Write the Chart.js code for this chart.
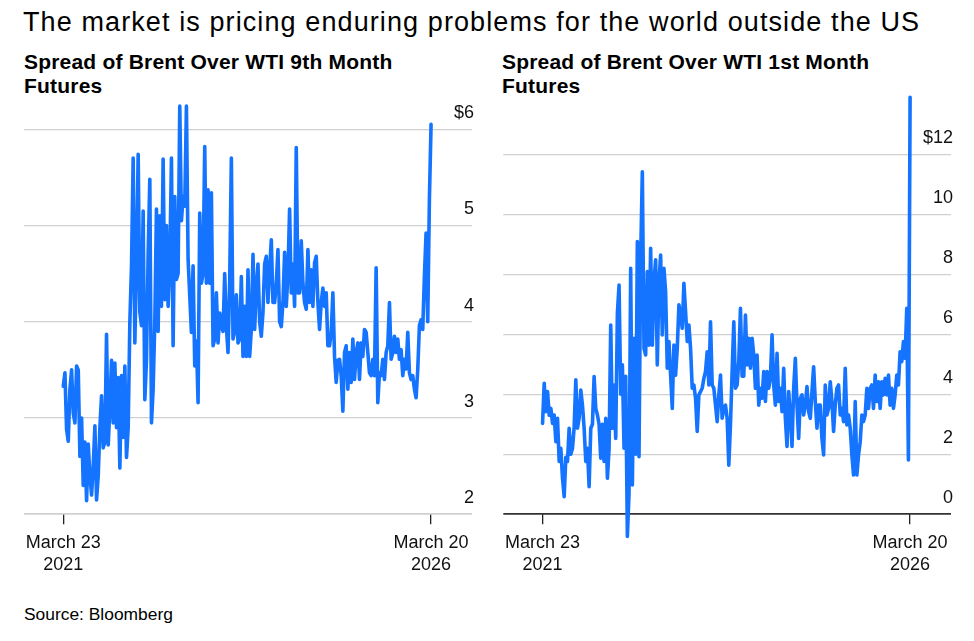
<!DOCTYPE html>
<html>
<head>
<meta charset="utf-8">
<script src="https://cdn.jsdelivr.net/npm/chart.js@4.4.1/dist/chart.umd.min.js"></script>
<style>
  html, body { margin: 0; padding: 0; background: #fff; }
  body { width: 974px; height: 641px; position: relative; overflow: hidden;
         font-family: 'Liberation Sans', Arial, sans-serif; color: #000; }
  .title { position: absolute; left: 23px; top: 9px; font-size: 27px; line-height: 27px;
           letter-spacing: 1.1px; white-space: nowrap; }
  .sub { position: absolute; top: 50px; font-size: 21px; line-height: 24px;
         font-weight: bold; letter-spacing: 0.2px; white-space: nowrap; }
  .box { position: absolute; top: 93px; width: 487px; height: 497px; }
  .source { position: absolute; left: 24px; top: 604px; font-size: 17.4px; line-height: 20px; }
</style>
</head>
<body>
<div class="title">The market is pricing enduring problems for the world outside the US</div>
<div class="sub" style="left:24px">Spread of Brent Over WTI 9th Month<br>Futures</div>
<div class="sub" style="left:502px">Spread of Brent Over WTI 1st Month<br>Futures</div>
<div class="box" style="left:0"><canvas id="chart9th"></canvas></div>
<div class="box" style="left:487px"><canvas id="chart1st"></canvas></div>
<div class="source">Source: Bloomberg</div>

<script>
// tick labels
const xTickLabels = [["March 23", "2021"], ["March 20", "2026"]];
const ticks9th = [2, 3, 4, 5, 6];
const ticks1st = [0, 2, 4, 6, 8, 10, 12];

// Brent over WTI, 9th month futures ($/bbl), March 2021 -> March 2026
const spread9th = [
  3.33, 3.47, 2.88, 2.76, 3.3, 3.5, 3.05, 2.95, 3.54, 3.5, 2.6, 3.0, 2.3, 2.75, 2.14, 2.73,
  2.4, 2.2, 2.5, 2.92, 2.15, 2.4, 2.9, 3.23, 2.69, 2.75, 3.87, 2.72, 3.1, 3.6, 2.95, 3.57,
  2.9, 3.42, 2.48, 3.44, 2.8, 3.54, 2.59, 2.9, 3.99, 4.58, 5.70, 3.78, 4.6, 5.74, 4.1, 3.96,
  5.15, 3.19, 3.6, 4.7,
  5.48, 2.95, 3.3, 4.0, 5.17, 3.9, 5.1, 4.16, 5.69, 4.23, 5.0, 4.16, 4.6, 5.70, 3.75, 5.3,
  4.44, 4.5, 6.24, 5.05, 5.3, 5.2, 6.24, 4.65, 4.27, 3.89, 4.58, 3.54, 3.8, 3.16, 5.13, 4.4,
  4.5, 5.82, 4.4, 5.37, 4.4, 5.34, 3.75, 3.82, 4.30, 3.78, 4.09, 3.95, 3.9, 4.5, 3.95, 3.68,
  4.42, 5.70, 3.82, 3.9, 4.28, 3.78, 3.82, 4.47, 3.64,
  4.16, 3.64, 4.54, 3.64, 3.92, 4.70, 3.92, 4.36, 4.6, 4.0, 3.85, 4.1, 4.6, 4.68, 4.2, 4.54,
  4.85, 4.2, 4.2, 4.4, 4.75, 4.0, 3.95, 4.2, 4.72, 4.16, 4.5, 5.17, 4.3, 4.6, 4.16, 5.81,
  4.3, 4.3, 4.84, 4.4, 4.2, 4.13, 4.75, 4.2, 4.54, 4.16, 4.61, 4.68, 4.2, 3.92, 4.2, 4.35,
  4.16, 4.3, 3.75, 3.75, 3.89, 4.30, 3.64, 3.37, 3.6,
  3.61, 3.44, 3.07, 3.68, 3.75, 3.3, 3.68, 3.37, 3.82, 3.4, 3.68, 3.78, 3.4, 3.78, 3.64, 3.92,
  3.89, 3.68, 3.47, 3.44, 3.61, 3.44, 4.56, 3.16, 3.47, 3.44, 3.61, 3.40, 3.68, 3.75, 4.2, 3.61,
  3.68, 3.85, 3.68, 3.82, 3.61, 3.71, 3.44, 3.61, 3.51, 3.89, 3.47, 3.40, 3.44, 3.30, 3.21, 3.5,
  3.96, 4.02, 3.92, 4.47, 4.92, 4.0, 5.27, 6.05
];

// Brent over WTI, 1st month futures ($/bbl)
const spread1st = [
  3.03, 4.37, 3.42, 4.09, 3.3, 3.53, 3.03, 3.31, 2.42, 3.2, 1.76, 2.2, 1.2, 0.59, 1.9, 1.76,
  2.87, 2.0, 2.2, 2.9, 4.48, 2.87, 3.2, 4.14, 3.64, 2.87, 1.76, 2.2, 0.92, 2.87, 3.0, 4.59,
  3.53, 3.31, 3.0, 1.87, 3.0, 1.76, 3.2, 1.2, 2.2, 6.31, 2.87, 4.31, 2.53, 6.7, 7.64, 4.0,
  4.98, 2.2, 4.6, -0.74, 0.7,
  8.2, 0.98, 5.87, 2.0, 9.09, 1.92, 8.53, 11.42, 5.53, 5.31, 8.09, 5.64, 8.87, 5.64, 7.76, 8.48,
  4.98, 7.76, 8.64, 5.98, 8.2, 7.42, 4.87, 5.76, 4.64, 3.53, 5.64, 4.64, 5.53, 6.98, 6.64, 6.2,
  7.7, 6.76, 5.76, 6.31, 5.53, 4.2, 4.31, 3.87, 2.76, 3.98, 4.09, 4.2, 4.53, 4.76, 5.42, 4.31,
  6.42, 4.31, 4.2, 3.64, 3.09, 3.98, 4.64, 3.2, 3.53,
  3.64, 3.2, 1.64, 3.0, 4.76, 6.42, 4.2, 4.31, 5.09, 6.87, 4.6, 4.6, 6.64, 4.98, 5.87, 4.87,
  5.87, 5.31, 4.2, 5.31, 3.64, 4.2, 3.87, 4.76, 3.76, 4.76, 4.2, 4.53, 5.98, 4.31, 3.64, 5.37,
  3.76, 4.2, 3.42, 4.87, 3.2, 2.26, 4.09, 3.31, 2.26, 4.2, 5.2, 3.64, 2.53, 3.87, 3.98, 3.31,
  3.64, 4.26, 3.42, 3.2, 4.09, 4.92, 3.76, 2.87, 3.64,
  3.64, 2.53, 1.98, 4.31, 3.31, 3.53, 4.42, 3.76, 2.76, 3.64, 4.2, 4.31, 3.31, 3.53, 3.09, 4.87,
  2.98, 3.31, 2.87, 1.98, 1.31, 3.76, 1.31, 1.98, 2.42, 3.31, 3.09, 3.31, 4.2, 3.53, 4.2, 4.31,
  3.53, 4.64, 3.76, 4.42, 3.53, 4.42, 3.98, 4.53, 3.98, 4.64, 3.64, 4.2, 3.53, 3.98, 4.64, 4.31,
  5.42, 5.09, 5.76, 5.2, 6.87, 1.81, 13.9
];

Chart.defaults.font.family = "'Liberation Sans', Arial, sans-serif";
Chart.defaults.color = '#111';

function makeChart(id, values, yTicks, yMax, pad) {
  const ctx = document.getElementById(id).getContext('2d');
  const last = values.length - 1;
  return new Chart(ctx, {
    type: 'line',
    data: {
      datasets: [{
        data: values.map((v, i) => ({ x: i, y: v })),
        borderColor: '#1473ff',
        borderWidth: 3.6,
        borderJoinStyle: 'round',
        borderCapStyle: 'round',
        pointRadius: 0,
        tension: 0,
        clip: false
      }]
    },
    options: {
      animation: false,
      responsive: true,
      maintainAspectRatio: false,
      layout: { padding: pad },
      plugins: { legend: { display: false }, tooltip: { enabled: false } },
      scales: {
        x: {
          type: 'linear',
          min: -23.6,
          max: last + 24.6,
          afterBuildTicks: s => { s.ticks = [{ value: 0 }, { value: last }]; },
          afterFit: s => { s.height = 75.7; s.paddingLeft = 0; s.paddingRight = 0; },
          grid: { drawOnChartArea: false, drawTicks: true, tickLength: 10, color: '#222', lineWidth: 1.3 },
          border: { display: false },
          ticks: {
            font: { size: 18 }, padding: 8, maxRotation: 0, autoSkip: false,
            callback: (v, i) => xTickLabels[i]
          }
        },
        y: {
          position: 'right',
          min: yTicks[0],
          max: yMax,
          afterBuildTicks: s => { s.ticks = yTicks.map(v => ({ value: v })); },
          afterFit: s => { s.width = 0; s.paddingTop = 0; s.paddingBottom = 0; },
          grid: {
            drawTicks: false,
            color: c => c.tick.value === 0 ? '#333' : '#d0d0d0',
            lineWidth: c => c.tick.value === yTicks[0] ? 1.7 : 1.3
          },
          border: { display: false },
          ticks: {
            mirror: true, padding: 2, labelOffset: -16, font: { size: 18 },
            callback: v => v === yTicks[yTicks.length - 1] ? '$' + v : String(v)
          }
        }
      }
    }
  });
}

makeChart('chart9th', spread9th, ticks9th, 6.3, { left: 24, right: 15, top: 7.3, bottom: 0 });
makeChart('chart1st', spread1st, ticks1st, 13.9, { left: 16.3, right: 23, top: 4.3, bottom: 0 });
</script>
</body>
</html>
